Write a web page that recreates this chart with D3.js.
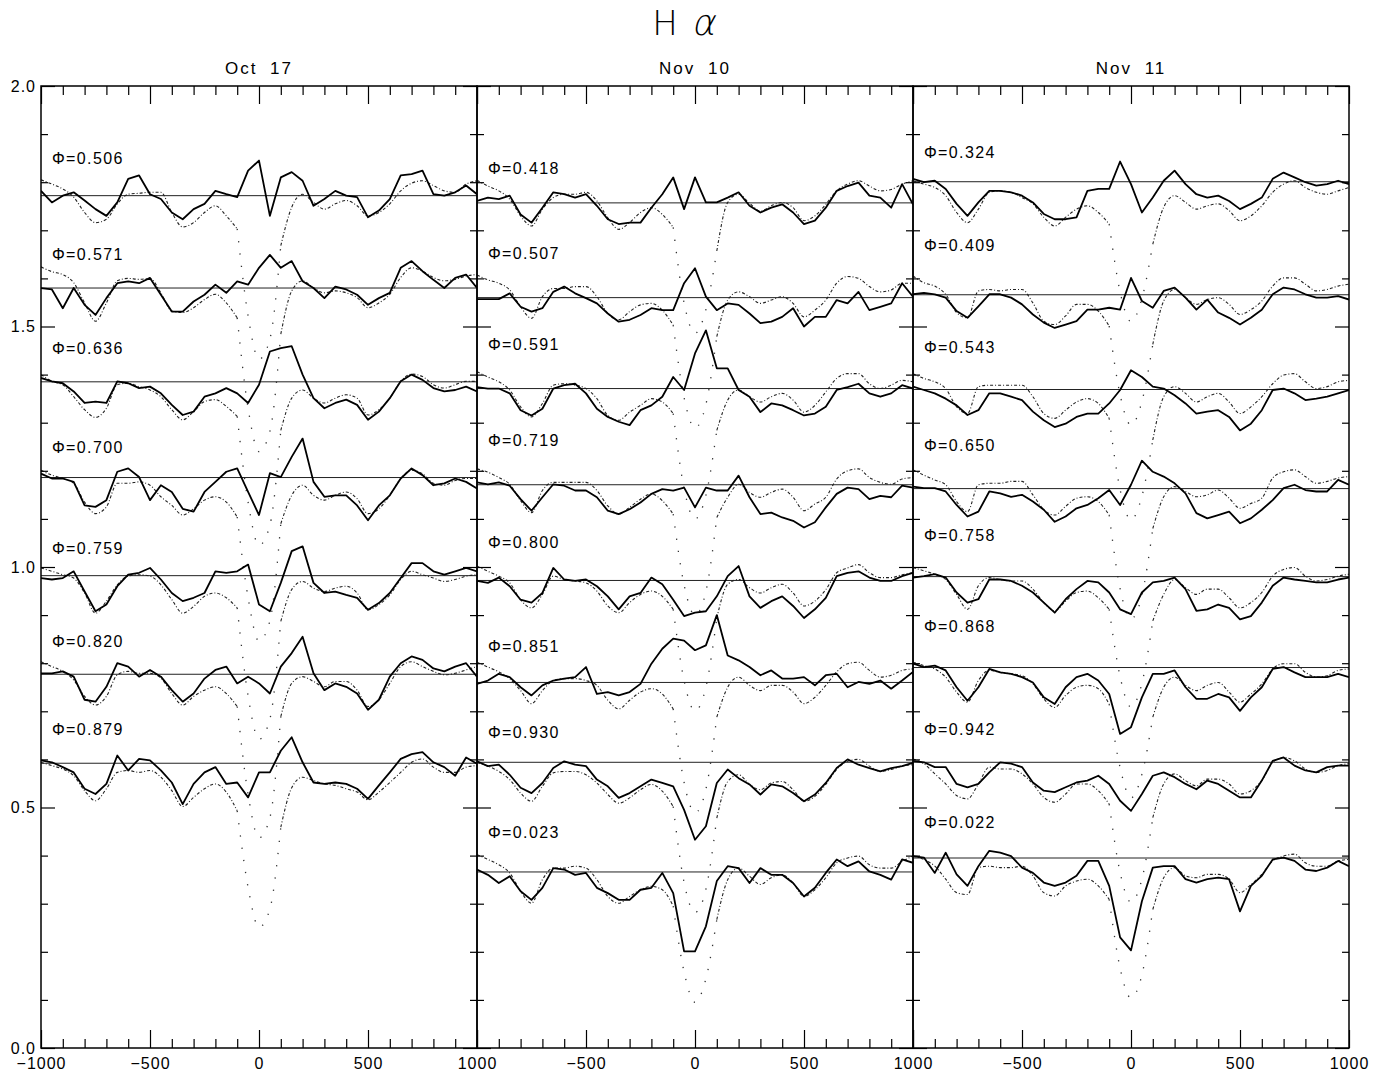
<!DOCTYPE html>
<html>
<head>
<meta charset="utf-8">
<script src="https://cdn.jsdelivr.net/npm/d3@7"></script>
<style>
  body { margin: 0; background: #fff; }
  text { font-family: "Liberation Sans", Arial, sans-serif; fill: #000; }
</style>
</head>
<body>
<div id="chart"></div>
<script>
// velocity grid (km/s) shared by every spectrum
const velocity = [-1000,-950,-900,-850,-800,-750,-700,-650,-600,-550,-500,-450,-400,-350,-300,-250,-200,-150,-100,-50,
  0,50,100,150,200,250,300,350,400,450,500,550,600,650,700,750,800,850,900,950,1000];

const nights = ["Oct 17", "Nov 10", "Nov 11"];

// ---- Oct 17 ----
const oct17Phases = ["0.506","0.571","0.636","0.700","0.759","0.820","0.879"];
const oct17Levels = [1.772,1.580,1.385,1.186,0.982,0.777,0.592];
const oct17LabelLevels = [1.850,1.651,1.454,1.250,1.040,0.845,0.663];
const oct17Obs = [
  [1.010,0.986,1.000,1.007,0.990,0.972,0.958,0.986,1.035,1.042,1.003,0.993,0.965,0.951,0.972,0.983,1.010,1.003,0.997,1.052,1.073,0.958,1.038,1.049,1.031,0.979,0.993,1.010,1.000,0.997,0.955,0.969,0.993,1.042,1.045,1.052,1.003,1.000,1.007,1.021,1.003],
  [1.000,0.997,0.958,1.000,0.965,0.944,0.979,1.010,1.014,1.010,1.021,0.986,0.951,0.951,0.972,0.986,1.007,0.990,1.014,1.007,1.042,1.069,1.042,1.056,1.014,1.000,0.979,1.003,0.997,0.986,0.965,0.979,0.990,1.042,1.056,1.035,1.017,1.000,1.021,1.028,1.000],
  [1.008,1.001,0.997,0.980,0.956,0.959,0.956,1.001,0.997,0.987,0.990,0.976,0.952,0.931,0.938,0.969,0.976,0.987,0.976,0.956,0.994,1.063,1.070,1.074,1.015,0.966,0.945,0.956,0.963,0.952,0.921,0.938,0.966,1.001,1.015,1.004,0.987,0.980,0.983,0.990,0.980],
  [1.008,0.998,0.998,0.991,0.942,0.939,0.953,1.012,1.019,1.001,0.953,0.984,0.970,0.935,0.929,0.970,0.991,1.012,1.019,0.970,0.922,1.009,1.001,1.043,1.081,0.991,0.960,0.963,0.963,0.942,0.911,0.942,0.963,0.998,1.019,1.005,0.984,0.988,0.998,0.991,0.977],
  [0.995,0.992,0.995,1.009,0.967,0.926,0.940,0.978,1.002,1.006,1.016,0.992,0.964,0.947,0.954,0.964,1.009,1.006,1.009,1.023,0.940,0.926,0.985,1.051,1.061,0.985,0.964,0.967,0.960,0.954,0.929,0.943,0.964,0.995,1.026,1.026,1.009,1.002,1.009,1.016,1.009],
  [1.002,1.002,1.006,0.995,0.947,0.943,0.974,1.023,1.016,0.995,1.009,0.995,0.967,0.943,0.960,0.991,1.009,1.016,0.981,0.995,0.981,0.960,1.016,1.044,1.078,1.002,0.967,0.981,0.974,0.960,0.926,0.947,0.995,1.023,1.037,1.030,1.012,1.006,1.016,1.023,0.995],
  [1.006,1.002,0.992,0.981,0.947,0.936,0.957,1.016,0.985,1.009,1.006,0.985,0.960,0.915,0.957,0.981,0.992,0.957,0.960,0.929,0.981,0.981,1.026,1.054,1.002,0.960,0.957,0.960,0.957,0.947,0.926,0.954,0.981,1.009,1.019,1.023,1.002,0.992,0.974,1.012,0.999]
];
const oct17Model = [
  [1.033,1.024,1.014,0.997,0.965,0.944,0.951,0.983,1.003,1.005,1.007,1.007,0.965,0.935,0.944,0.965,0.979,0.958,0.931,0.750,0.660,0.702,0.896,0.976,1.003,0.986,0.972,0.983,0.990,0.979,0.958,0.965,0.983,1.010,1.026,1.031,1.021,1.010,1.007,1.024,1.031],
  [1.044,1.034,1.028,1.011,0.969,0.931,0.969,1.015,1.020,1.018,1.020,0.990,0.952,0.949,0.959,0.976,0.987,0.969,0.938,0.750,0.660,0.702,0.904,0.994,1.015,1.000,0.990,0.994,0.990,0.980,0.959,0.969,0.987,1.022,1.042,1.035,1.022,1.015,1.018,1.025,1.028],
  [1.015,1.001,0.994,0.969,0.942,0.926,0.945,0.994,0.997,0.990,0.983,0.969,0.942,0.921,0.938,0.959,0.963,0.949,0.928,0.750,0.660,0.702,0.899,0.966,0.983,0.966,0.956,0.966,0.973,0.966,0.931,0.942,0.966,1.001,1.016,1.011,0.994,0.987,0.994,1.001,1.001],
  [1.015,1.005,0.998,0.988,0.949,0.925,0.939,0.988,0.988,0.991,0.984,0.960,0.942,0.922,0.935,0.953,0.960,0.949,0.918,0.750,0.660,0.702,0.904,0.963,0.984,0.963,0.953,0.963,0.970,0.956,0.925,0.935,0.963,0.998,1.015,1.008,0.988,0.984,0.994,0.998,0.998],
  [1.016,1.009,1.002,0.995,0.964,0.922,0.947,0.981,0.999,1.002,0.999,0.981,0.950,0.922,0.936,0.957,0.964,0.954,0.933,0.750,0.660,0.702,0.905,0.971,0.988,0.974,0.967,0.974,0.978,0.964,0.929,0.940,0.960,0.992,1.009,1.002,0.995,0.988,0.992,0.999,1.002],
  [1.026,1.016,1.006,0.988,0.954,0.936,0.954,0.999,1.006,1.002,1.002,0.992,0.960,0.936,0.954,0.967,0.974,0.960,0.933,0.750,0.660,0.702,0.912,0.981,0.995,0.985,0.974,0.985,0.985,0.967,0.933,0.947,0.981,1.016,1.026,1.016,1.006,0.999,1.002,1.009,1.016],
  [1.002,0.995,0.988,0.974,0.943,0.922,0.947,0.981,0.985,0.981,0.985,0.971,0.943,0.910,0.929,0.947,0.957,0.940,0.901,0.742,0.659,0.697,0.867,0.949,0.971,0.964,0.957,0.954,0.947,0.940,0.924,0.940,0.960,0.981,1.002,1.009,0.992,0.981,0.981,0.992,0.995]
];

// ---- Nov 10 ----
const nov10Phases = ["0.418","0.507","0.591","0.719","0.800","0.851","0.930","0.023"];
const nov10Levels = [1.757,1.560,1.371,1.171,0.972,0.760,0.594,0.366];
const nov10LabelLevels = [1.828,1.653,1.464,1.263,1.051,0.835,0.656,0.449];
const nov10Obs = [
  [1.004,1.011,1.008,1.015,0.976,0.959,0.990,1.022,1.018,1.011,1.018,0.994,0.966,0.956,0.959,0.959,0.990,1.018,1.053,0.987,1.053,1.001,1.001,1.011,1.022,0.994,0.980,0.990,0.997,0.980,0.956,0.963,0.990,1.025,1.035,1.042,1.015,1.011,0.990,1.039,0.997],
  [0.997,0.997,0.997,1.009,0.981,0.971,0.978,1.012,1.023,1.009,0.999,0.988,0.967,0.950,0.954,0.964,0.978,0.974,0.974,1.030,1.061,1.002,0.974,0.988,0.985,0.967,0.947,0.950,0.960,0.978,0.940,0.960,0.960,0.995,0.988,1.012,0.974,0.981,0.988,1.030,1.002],
  [1.003,1.000,1.000,0.990,0.955,0.944,0.958,1.000,1.007,1.010,0.990,0.958,0.941,0.931,0.924,0.955,0.965,0.983,1.024,0.997,1.073,1.121,1.042,1.042,0.997,0.983,0.951,0.969,0.965,0.955,0.944,0.948,0.962,0.997,1.003,1.010,0.990,0.983,0.990,1.007,1.000],
  [1.005,1.001,1.005,0.998,0.970,0.946,0.974,1.001,0.998,0.988,0.988,0.974,0.946,0.939,0.949,0.963,0.981,0.991,0.988,0.994,0.953,0.994,0.988,0.988,1.019,0.974,0.939,0.942,0.932,0.925,0.911,0.922,0.953,0.981,0.994,0.991,0.970,0.977,0.974,0.998,0.994],
  [0.999,0.995,1.006,0.988,0.960,0.954,0.974,1.026,1.002,0.999,1.002,0.988,0.967,0.940,0.967,0.974,1.006,0.992,0.960,0.926,0.933,0.936,0.967,1.009,1.030,0.967,0.943,0.957,0.967,0.947,0.922,0.940,0.964,1.009,1.016,1.019,1.006,0.999,0.999,1.009,1.016],
  [0.997,1.004,1.018,1.011,0.990,0.973,0.994,1.004,1.008,1.011,1.032,0.976,0.980,0.973,0.980,0.997,1.039,1.070,1.091,1.087,1.067,1.077,1.140,1.056,1.046,1.032,1.015,1.025,1.008,1.008,1.011,0.994,1.015,1.018,0.990,1.001,0.997,1.004,0.987,1.004,1.022],
  [1.002,0.992,0.995,0.974,0.947,0.936,0.957,0.988,1.002,0.995,0.992,0.964,0.950,0.926,0.936,0.950,0.964,0.957,0.950,0.901,0.839,0.867,0.957,0.985,0.967,0.954,0.933,0.954,0.950,0.936,0.919,0.933,0.957,0.988,1.006,0.995,0.988,0.981,0.988,0.992,0.999],
  [1.005,0.994,0.977,0.991,0.960,0.942,0.967,1.008,1.005,0.994,0.998,0.967,0.956,0.942,0.942,0.963,0.967,0.998,0.956,0.835,0.835,0.887,0.981,1.012,1.008,0.977,1.008,0.994,0.994,0.977,0.949,0.967,0.998,1.026,1.012,1.022,1.001,0.994,0.984,1.026,1.019]
];
const nov10Model = [
  [1.047,1.035,1.025,1.008,0.973,0.952,0.987,1.011,1.018,1.018,1.022,1.004,0.969,0.945,0.959,0.980,0.990,0.976,0.949,0.792,0.729,0.778,0.900,1.001,1.018,0.999,0.983,0.994,1.001,0.990,0.963,0.973,0.997,1.025,1.039,1.046,1.035,1.025,1.028,1.039,1.046],
  [1.047,1.037,1.030,1.016,0.981,0.957,1.002,1.019,1.019,1.023,1.023,1.002,0.967,0.954,0.971,0.985,0.988,0.974,0.943,0.792,0.729,0.778,0.919,0.995,1.012,1.002,0.988,0.995,1.002,0.988,0.960,0.974,0.995,1.030,1.044,1.040,1.023,1.012,1.016,1.030,1.030],
  [1.035,1.024,1.014,0.997,0.962,0.941,0.969,1.007,1.010,1.007,1.000,0.979,0.944,0.934,0.951,0.965,0.979,0.972,0.948,0.792,0.729,0.778,0.913,0.976,0.997,0.983,0.972,0.983,0.990,0.976,0.951,0.965,0.993,1.021,1.031,1.031,1.010,1.000,1.007,1.017,1.014],
  [1.033,1.026,1.015,1.001,0.967,0.942,0.988,1.005,1.005,1.005,1.005,0.988,0.956,0.939,0.953,0.970,0.981,0.967,0.939,0.792,0.729,0.778,0.932,0.974,1.001,0.984,0.974,0.984,0.991,0.974,0.946,0.960,0.974,1.012,1.029,1.033,1.015,1.005,1.001,1.012,1.015],
  [1.030,1.019,1.009,0.995,0.960,0.943,0.971,1.009,1.002,0.999,0.995,0.978,0.947,0.933,0.954,0.971,0.978,0.967,0.940,0.792,0.729,0.778,0.922,0.992,1.002,0.985,0.974,0.985,0.992,0.974,0.947,0.957,0.981,1.016,1.026,1.033,1.016,1.006,1.006,1.012,1.016],
  [1.042,1.032,1.022,1.008,0.983,0.956,0.983,1.004,1.008,1.008,1.004,0.994,0.963,0.945,0.963,0.980,0.987,0.976,0.945,0.792,0.729,0.778,0.928,0.990,1.011,0.994,0.983,0.994,0.994,0.980,0.956,0.969,0.994,1.022,1.039,1.042,1.025,1.011,1.015,1.025,1.028],
  [0.999,0.992,0.981,0.964,0.936,0.919,0.950,0.978,0.981,0.981,0.974,0.957,0.933,0.915,0.926,0.943,0.954,0.940,0.908,0.750,0.688,0.736,0.884,0.960,0.974,0.954,0.943,0.957,0.960,0.943,0.919,0.929,0.954,0.985,1.002,1.006,0.992,0.981,0.985,0.992,0.995],
  [1.036,1.026,1.015,0.998,0.960,0.935,0.984,1.008,1.008,1.012,1.008,0.984,0.949,0.935,0.949,0.963,0.970,0.963,0.929,0.792,0.729,0.778,0.901,0.984,1.008,0.991,0.974,0.988,0.994,0.977,0.949,0.963,0.988,1.019,1.029,1.033,1.015,1.008,1.008,1.022,1.033]
];

// ---- Nov 11 ----
const nov11Phases = ["0.324","0.409","0.543","0.650","0.758","0.868","0.942","0.022"];
const nov11Levels = [1.801,1.566,1.369,1.163,0.980,0.791,0.594,0.395];
const nov11LabelLevels = [1.863,1.668,1.456,1.254,1.067,0.876,0.663,0.469];
const nov11Obs = [
  [1.006,0.999,1.002,0.985,0.954,0.929,0.957,0.981,0.981,0.978,0.971,0.957,0.933,0.922,0.922,0.926,0.981,0.985,0.985,1.042,0.995,0.936,0.967,1.002,1.023,0.995,0.974,0.967,0.971,0.960,0.943,0.954,0.967,1.006,1.019,1.009,0.999,0.992,0.995,1.002,0.995],
  [1.001,1.004,1.001,0.994,0.966,0.952,0.976,1.001,1.001,0.994,0.980,0.959,0.942,0.931,0.938,0.945,0.969,0.969,0.973,0.969,1.035,0.987,0.973,1.008,1.015,0.994,0.969,0.990,0.963,0.952,0.938,0.952,0.969,1.001,1.015,1.011,1.001,0.994,0.994,0.997,0.990],
  [1.006,0.999,0.992,0.981,0.967,0.947,0.957,0.992,0.992,0.985,0.978,0.954,0.936,0.922,0.929,0.943,0.950,0.950,0.971,0.999,1.040,1.026,1.006,1.002,0.988,0.971,0.950,0.954,0.957,0.943,0.915,0.929,0.957,0.999,1.002,0.992,0.978,0.981,0.985,0.992,0.999],
  [1.004,1.001,1.001,0.994,0.966,0.942,0.952,0.994,0.990,0.983,0.987,0.973,0.956,0.931,0.942,0.959,0.966,0.980,0.997,0.966,1.008,1.058,1.035,1.025,1.011,0.990,0.949,0.938,0.945,0.952,0.928,0.938,0.956,0.976,1.001,1.008,0.997,0.994,0.994,1.018,1.008],
  [0.998,1.001,1.005,0.998,0.967,0.946,0.953,0.994,0.994,0.991,0.981,0.967,0.946,0.925,0.953,0.974,0.991,0.988,0.967,0.932,0.922,0.967,0.988,0.991,0.998,0.974,0.929,0.932,0.942,0.935,0.911,0.918,0.946,0.981,0.998,0.994,0.991,0.988,0.988,0.994,0.998],
  [1.008,1.001,1.004,0.994,0.959,0.931,0.959,0.997,0.990,0.987,0.980,0.969,0.938,0.924,0.959,0.980,0.987,0.973,0.945,0.862,0.876,0.938,0.987,0.987,0.994,0.959,0.935,0.935,0.945,0.938,0.910,0.938,0.959,0.997,1.001,0.990,0.980,0.980,0.980,0.987,0.980],
  [1.003,1.000,0.990,0.990,0.955,0.948,0.955,0.979,1.000,0.997,0.990,0.958,0.941,0.938,0.948,0.958,0.962,0.972,0.955,0.920,0.899,0.934,0.972,0.979,0.969,0.955,0.944,0.962,0.955,0.941,0.927,0.927,0.962,1.003,1.010,0.993,0.983,0.979,0.990,0.993,0.993],
  [1.004,1.001,0.969,1.011,0.966,0.942,0.983,1.015,1.011,1.004,0.980,0.969,0.949,0.942,0.949,0.963,0.994,0.994,0.942,0.835,0.808,0.910,0.980,0.983,0.983,0.956,0.949,0.956,0.959,0.956,0.889,0.942,0.963,0.997,1.001,0.994,0.976,0.973,0.980,0.994,0.983]
];
const nov11Model = [
  [1.002,0.995,0.988,0.971,0.936,0.915,0.943,0.978,0.981,0.978,0.967,0.954,0.926,0.908,0.926,0.943,0.950,0.936,0.912,0.771,0.709,0.757,0.870,0.947,0.971,0.957,0.943,0.950,0.954,0.940,0.919,0.929,0.950,0.978,0.995,1.002,0.988,0.978,0.974,0.981,0.988],
  [1.039,1.025,1.018,1.001,0.963,0.952,1.008,1.011,1.008,1.011,1.011,0.983,0.945,0.938,0.956,0.980,0.980,0.966,0.935,0.792,0.729,0.778,0.897,0.987,1.011,0.994,0.980,0.990,0.994,0.980,0.959,0.969,0.987,1.018,1.035,1.035,1.022,1.008,1.011,1.018,1.022],
  [1.033,1.023,1.016,1.002,0.964,0.950,1.006,1.009,1.009,1.009,1.009,0.985,0.950,0.940,0.957,0.974,0.981,0.971,0.940,0.792,0.729,0.778,0.895,0.985,1.006,0.992,0.974,0.985,0.992,0.974,0.950,0.964,0.985,1.012,1.030,1.033,1.016,1.002,1.006,1.016,1.019],
  [1.039,1.028,1.018,1.008,0.973,0.952,1.008,1.011,1.011,1.015,1.015,0.987,0.956,0.945,0.963,0.980,0.983,0.973,0.945,0.792,0.729,0.778,0.917,0.983,1.004,0.994,0.983,0.987,0.997,0.980,0.959,0.969,0.980,1.022,1.035,1.039,1.025,1.011,1.015,1.022,1.025],
  [1.019,1.012,1.005,0.994,0.963,0.932,0.981,0.998,0.994,0.991,0.991,0.974,0.946,0.929,0.949,0.967,0.970,0.956,0.932,0.792,0.729,0.778,0.908,0.963,0.994,0.977,0.963,0.974,0.974,0.956,0.935,0.946,0.967,1.001,1.015,1.019,1.001,0.991,0.994,1.001,1.005],
  [1.011,1.004,0.997,0.980,0.949,0.928,0.973,0.994,0.990,0.987,0.983,0.966,0.935,0.917,0.942,0.959,0.963,0.956,0.924,0.792,0.729,0.778,0.897,0.959,0.980,0.963,0.952,0.963,0.969,0.949,0.928,0.945,0.966,0.997,1.008,1.008,0.990,0.980,0.983,0.994,0.997],
  [1.007,0.997,0.976,0.955,0.931,0.924,0.955,0.990,0.986,0.986,0.976,0.955,0.927,0.917,0.934,0.955,0.955,0.941,0.913,0.771,0.709,0.757,0.885,0.955,0.976,0.962,0.951,0.965,0.965,0.955,0.934,0.941,0.962,1.000,1.010,1.003,0.986,0.979,0.983,0.993,0.997],
  [1.004,0.997,0.983,0.956,0.928,0.924,0.980,0.983,0.980,0.980,0.983,0.963,0.928,0.921,0.942,0.952,0.956,0.942,0.914,0.771,0.709,0.757,0.893,0.959,0.980,0.963,0.959,0.966,0.966,0.956,0.928,0.945,0.966,0.994,1.004,1.008,0.990,0.983,0.983,0.994,0.997]
];

const xMajor = [-1000,-500,0,500,1000];
const xMinor = [-900,-800,-700,-600,-400,-300,-200,-100,100,200,300,400,600,700,800,900];
const yMajor = [0,0.5,1,1.5,2];
const yMinor = [0.1,0.2,0.3,0.4,0.6,0.7,0.8,0.9,1.1,1.2,1.3,1.4,1.6,1.7,1.8,1.9];

const panels = [
  {title: nights[0], phases: oct17Phases, levels: oct17Levels, labels: oct17LabelLevels, obs: oct17Obs, model: oct17Model},
  {title: nights[1], phases: nov10Phases, levels: nov10Levels, labels: nov10LabelLevels, obs: nov10Obs, model: nov10Model},
  {title: nights[2], phases: nov11Phases, levels: nov11Levels, labels: nov11LabelLevels, obs: nov11Obs, model: nov11Model}
];

const W = 1385, H = 1077;
const plotTop = 86, plotBottom = 1048, plotLeft = 41, panelW = 436;
// the deep model core (|v| <= 100 km/s) is drawn as sparse dots
const coreLo = -100, coreHi = 100;

const svg = d3.select("#chart").append("svg")
  .attr("width", W).attr("height", H);

const y = d3.scaleLinear().domain([0, 2]).range([plotBottom, plotTop]);

// title: H alpha
svg.append("text")
  .attr("x", 665).attr("y", 35)
  .attr("text-anchor", "middle")
  .style("font-family", "'DejaVu Sans', sans-serif")
  .style("font-weight", "200")
  .style("font-size", "34px")
  .text("H");
svg.append("text")
  .attr("transform", "translate(703,35) skewX(-12)")
  .attr("text-anchor", "middle")
  .style("font-family", "'DejaVu Sans', sans-serif")
  .style("font-weight", "200")
  .style("font-size", "36px")
  .text("α");

panels.forEach(function(p, k) {
  const x0 = plotLeft + k * panelW;
  const x = d3.scaleLinear().domain([-1000, 1000]).range([x0, x0 + panelW]);
  const g = svg.append("g");

  g.append("clipPath").attr("id", "clip" + k)
    .append("rect").attr("x", x0).attr("y", plotTop).attr("width", panelW).attr("height", plotBottom - plotTop);

  const plot = g.append("g").attr("clip-path", "url(#clip" + k + ")");

  const wingLine = (lvl) => d3.line()
    .defined((d, i) => velocity[i] <= coreLo || velocity[i] >= coreHi)
    .x((d, i) => x(velocity[i]))
    .y(d => y(lvl + d - 1))
    .curve(d3.curveMonotoneX);
  const coreLine = (lvl) => d3.line()
    .defined((d, i) => velocity[i] >= coreLo && velocity[i] <= coreHi)
    .x((d, i) => x(velocity[i]))
    .y(d => y(lvl + d - 1))
    .curve(d3.curveMonotoneX);
  const obsLine = (lvl) => d3.line()
    .x((d, i) => x(velocity[i]))
    .y(d => y(lvl + d - 1));

  p.obs.forEach(function(obs, j) {
    const lvl = p.levels[j];
    plot.append("line")
      .attr("x1", x(-1000)).attr("x2", x(1000))
      .attr("y1", y(lvl)).attr("y2", y(lvl))
      .attr("stroke", "#222").attr("stroke-width", 1);
    plot.append("path").datum(p.model[j])
      .attr("d", wingLine(lvl))
      .attr("fill", "none").attr("stroke", "#222")
      .attr("stroke-width", 1.1)
      .attr("stroke-dasharray", "3,2,1,2");
    plot.append("path").datum(p.model[j])
      .attr("d", coreLine(lvl))
      .attr("fill", "none").attr("stroke", "#333")
      .attr("stroke-width", 1.3)
      .attr("stroke-dasharray", "1.3,11");
    plot.append("path").datum(obs)
      .attr("d", obsLine(lvl))
      .attr("fill", "none").attr("stroke", "#000")
      .attr("stroke-width", 1.8)
      .attr("stroke-linejoin", "round");
    g.append("text")
      .attr("x", x(-950)).attr("y", y(p.labels[j]))
      .attr("dy", "0.36em")
      .style("font-size", "16px")
      .style("letter-spacing", "1.4px")
      .text("\u03A6=" + p.phases[j]);
  });

  // night label
  g.append("text")
    .attr("x", x(0)).attr("y", 74)
    .attr("text-anchor", "middle")
    .style("font-size", "17px")
    .style("letter-spacing", "2px")
    .style("word-spacing", "6px")
    .text(p.title);

  // axes: ticks point inward
  const majorLabels = k === 0 ? xMajor : xMajor.slice(1);
  const ax = [];
  ax.push(g.append("g").attr("transform", `translate(0,${plotBottom})`)
    .call(d3.axisBottom(x).tickValues(xMinor).tickSize(-9).tickFormat("")));
  ax.push(g.append("g").attr("transform", `translate(0,${plotBottom})`)
    .call(d3.axisBottom(x).tickValues(xMajor).tickSize(-18).tickPadding(10)
      .tickFormat(d => majorLabels.includes(d) ? String(d).replace("-", "\u2212") : "")));
  ax.push(g.append("g").attr("transform", `translate(0,${plotTop})`)
    .call(d3.axisTop(x).tickValues(xMinor).tickSize(-9).tickFormat("")));
  ax.push(g.append("g").attr("transform", `translate(0,${plotTop})`)
    .call(d3.axisTop(x).tickValues(xMajor).tickSize(-18).tickFormat("")));
  ax.push(g.append("g").attr("transform", `translate(${x0},0)`)
    .call(d3.axisLeft(y).tickValues(yMinor).tickSize(-7).tickFormat("")));
  ax.push(g.append("g").attr("transform", `translate(${x0},0)`)
    .call(d3.axisLeft(y).tickValues(yMajor).tickSize(-14).tickPadding(5)
      .tickFormat(k === 0 ? d3.format(".1f") : "")));
  ax.push(g.append("g").attr("transform", `translate(${x0 + panelW},0)`)
    .call(d3.axisRight(y).tickValues(yMinor).tickSize(-7).tickFormat("")));
  ax.push(g.append("g").attr("transform", `translate(${x0 + panelW},0)`)
    .call(d3.axisRight(y).tickValues(yMajor).tickSize(-14).tickFormat("")));
  ax.forEach(a => {
    a.select(".domain").remove();
    a.selectAll("line").attr("stroke", "#000").attr("stroke-width", 1.2);
    a.selectAll("text").style("font-size", "16px").style("letter-spacing", "1px")
      .style("font-family", "'Liberation Sans', Arial, sans-serif");
  });

  g.append("rect")
    .attr("x", x0).attr("y", plotTop).attr("width", panelW).attr("height", plotBottom - plotTop)
    .attr("fill", "none").attr("stroke", "#000").attr("stroke-width", 1.5);
});
</script>
</body>
</html>
